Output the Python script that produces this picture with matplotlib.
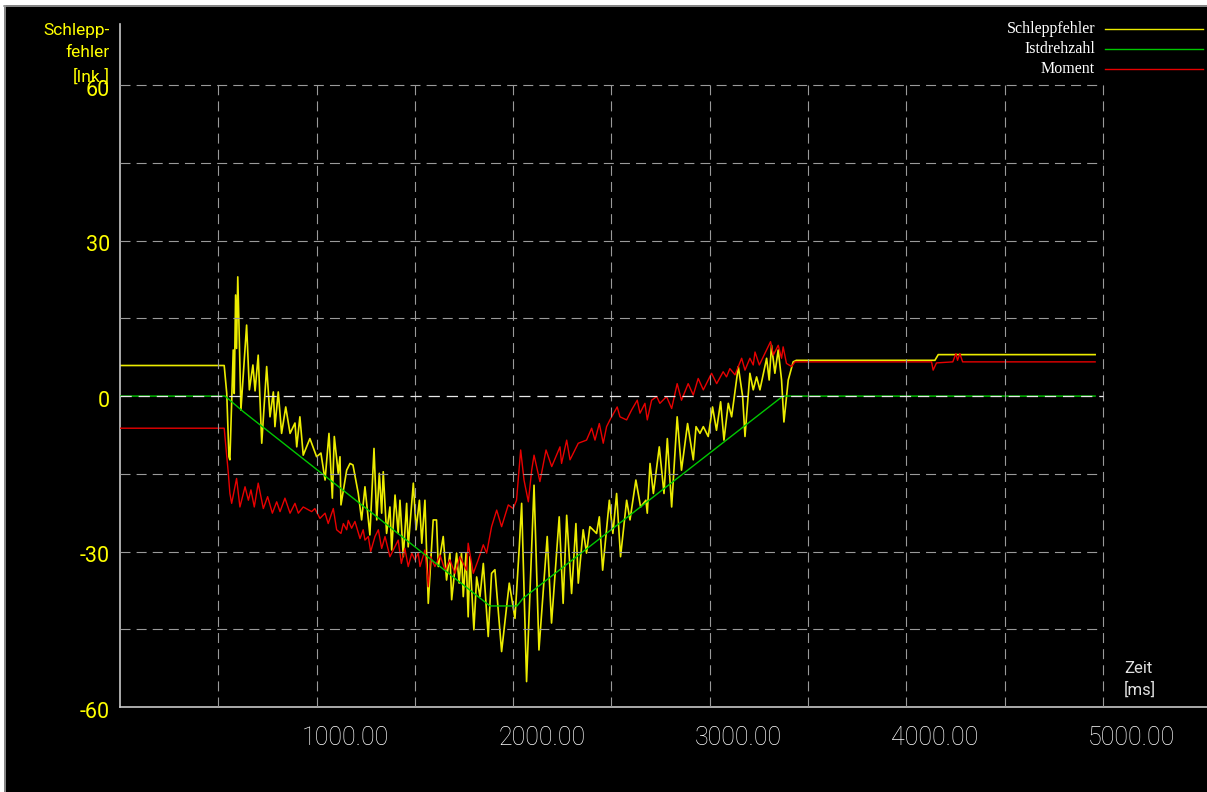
import matplotlib
matplotlib.use("Agg")
import matplotlib.pyplot as plt
from matplotlib.patches import Rectangle
from matplotlib.lines import Line2D

schlepp_t = [0, 530, 543, 554, 559, 576, 581, 588, 593, 599,
             605, 615, 644, 658, 676, 687, 703, 721, 746, 763,
             780, 788, 805, 822, 843, 865, 890, 899, 915, 932,
             966, 1000, 1022, 1043, 1063, 1080, 1090, 1110, 1119, 1124,
             1153, 1170, 1185, 1212, 1229, 1246, 1271, 1292, 1306, 1319,
             1331, 1339, 1356, 1373, 1382, 1399, 1415, 1424, 1441, 1458,
             1466, 1492, 1506, 1523, 1535, 1551, 1568, 1593, 1610, 1619,
             1644, 1661, 1678, 1687, 1712, 1725, 1737, 1746, 1760, 1771,
             1780, 1800, 1814, 1831, 1848, 1873, 1890, 1907, 1941, 1980,
             2009, 2031, 2043, 2068, 2106, 2131, 2173, 2195, 2234, 2254,
             2272, 2297, 2319, 2331, 2356, 2373, 2390, 2424, 2438, 2455,
             2489, 2507, 2526, 2546, 2577, 2594, 2624, 2648, 2675, 2682,
             2696, 2713, 2743, 2767, 2784, 2806, 2834, 2856, 2887, 2916,
             2930, 2950, 2967, 2992, 3014, 3034, 3055, 3072, 3094, 3111,
             3145, 3167, 3179, 3204, 3221, 3238, 3255, 3289, 3302, 3314,
             3331, 3348, 3365, 3377, 3399, 3424, 3440, 4145, 4162, 4960]
schlepp_v = [5.9, 5.9, 0.5, -11.7, -12.3, 8.9, 0.5, 19.5, 9.2, 23.0,
             14.0, -2.7, 13.7, 1.2, 6.0, 1.0, 7.9, -9.1, 5.7, -4.0,
             0.8, -5.9, 0.8, -7.2, -2.1, -7.2, -5.2, -9.8, -4.0, -11.4,
             -8.2, -11.7, -11.0, -16.2, -7.2, -19.7, -7.8, -14.9, -11.7, -21.0,
             -14.3, -13.0, -13.3, -18.8, -23.9, -17.5, -26.8, -10.1, -23.9, -14.9,
             -22.6, -14.6, -26.5, -21.4, -29.7, -19.1, -26.5, -20.1, -31.0, -20.7,
             -29.1, -16.8, -25.8, -20.1, -28.4, -20.1, -40.0, -23.9, -23.9, -32.9,
             -27.1, -35.5, -30.3, -39.3, -30.3, -36.1, -30.3, -38.7, -30.3, -42.6,
             -31.0, -45.1, -34.9, -38.7, -32.3, -46.4, -34.2, -33.5, -49.3, -36.1,
             -42.9, -29.1, -20.7, -55.1, -17.2, -49.0, -27.1, -43.8, -23.3, -40.0,
             -23.0, -38.1, -24.6, -36.1, -25.8, -30.3, -25.2, -26.5, -23.3, -33.6,
             -20.1, -26.5, -18.8, -31.0, -20.1, -23.9, -16.2, -21.4, -20.1, -22.6,
             -13.0, -18.8, -9.8, -18.8, -8.2, -21.4, -4.0, -14.3, -5.3, -12.3,
             -5.9, -7.2, -5.9, -7.8, -2.1, -6.6, -1.1, -8.5, -1.4, -4.0,
             5.7, -0.1, -7.8, 4.4, 1.2, 3.7, 1.2, 7.3, 3.1, 9.8,
             4.4, 8.9, 3.1, -5.0, 3.1, 6.6, 6.9, 6.9, 8.0, 8.0]

moment_t = [0, 530, 551, 559, 568, 593, 610, 636, 653, 666,
            683, 703, 729, 751, 775, 797, 814, 839, 865, 890,
            907, 932, 975, 991, 1017, 1043, 1059, 1085, 1102, 1124,
            1136, 1153, 1161, 1178, 1195, 1221, 1237, 1246, 1263, 1275,
            1297, 1314, 1331, 1348, 1373, 1390, 1415, 1431, 1449, 1466,
            1484, 1500, 1517, 1526, 1551, 1568, 1580, 1602, 1628, 1653,
            1678, 1704, 1729, 1763, 1771, 1797, 1822, 1848, 1865, 1890,
            1916, 1941, 1975, 2000, 2017, 2038, 2055, 2077, 2094, 2106,
            2136, 2167, 2196, 2238, 2246, 2272, 2289, 2331, 2373, 2399,
            2416, 2438, 2458, 2475, 2492, 2529, 2543, 2577, 2602, 2631,
            2645, 2670, 2682, 2704, 2730, 2746, 2780, 2806, 2834, 2856,
            2890, 2916, 2941, 2967, 3009, 3035, 3068, 3085, 3102, 3128,
            3162, 3179, 3204, 3221, 3230, 3252, 3280, 3309, 3323, 3348,
            3365, 3373, 3390, 3416, 3433, 4128, 4136, 4153, 4236, 4252,
            4260, 4272, 4286, 4960]
moment_v = [-6.2, -6.2, -14.9, -18.8, -20.7, -15.9, -21.4, -17.5, -20.1, -18.1,
            -21.4, -16.8, -21.7, -19.4, -22.6, -20.4, -22.3, -19.7, -22.6, -20.7,
            -22.6, -21.4, -22.3, -21.7, -23.6, -22.6, -24.6, -21.7, -25.8, -26.5,
            -24.6, -25.8, -24.0, -25.5, -24.2, -27.5, -25.8, -27.8, -27.1, -30.0,
            -27.1, -25.8, -29.4, -27.1, -31.0, -29.7, -27.8, -32.3, -29.4, -32.9,
            -30.3, -31.6, -30.3, -32.9, -29.7, -36.8, -31.0, -32.9, -30.7, -33.6,
            -31.6, -34.2, -31.0, -33.6, -28.4, -34.2, -31.6, -28.7, -30.3, -25.2,
            -22.0, -25.2, -21.0, -21.7, -20.1, -10.4, -16.2, -20.4, -14.3, -11.4,
            -16.5, -10.4, -13.6, -9.8, -13.0, -8.5, -12.3, -9.1, -8.5, -6.2,
            -8.5, -5.3, -9.1, -5.9, -4.6, -2.1, -4.0, -4.6, -2.7, -0.8,
            -3.3, -1.4, -4.6, -0.8, -0.1, -1.4, -0.1, -2.4, 2.4, -0.8,
            2.4, 0.2, 3.4, 1.2, 4.4, 2.4, 4.7, 3.7, 5.3, 4.1,
            7.3, 5.0, 7.3, 6.0, 8.5, 6.0, 8.2, 10.5, 7.9, 9.8,
            7.3, 9.5, 6.3, 5.7, 6.6, 6.6, 5.0, 6.4, 6.6, 8.2,
            6.9, 8.2, 6.6, 6.6]

drehzahl_t = [0, 534, 627, 1882, 2019, 2051, 3372, 4960]
drehzahl_v = [0, 0, -3.0, -40.5, -40.5, -39.0, 0, 0]

x_ticks = [1000, 2000, 3000, 4000, 5000]
x_labels = ["1000.00", "2000.00", "3000.00", "4000.00", "5000.00"]
y_ticks = [60, 30, 0, -30, -60]
y_labels = ["60", "30", "0", "-30", "-60"]
legend_names = ["Schleppfehler", "Istdrehzahl", "Moment"]

GELB = "#ecec00"
GRUEN = "#00c800"
ROT = "#e80000"

W, H = 1207, 792
fig = plt.figure(figsize=(W / 100, H / 100), dpi=100, facecolor="black")
ax = fig.add_axes([120 / W, 85 / H, 1 - 120 / W, (707 - 24) / H])
ax.set_facecolor("black")
ax.set_xlim(0, 5529)
ax.set_ylim(-60, 71.8)
ax.set_xticks([])
ax.set_yticks([])
for s in ["top", "right"]:
    ax.spines[s].set_visible(False)
for s in ["left", "bottom"]:
    ax.spines[s].set_color("#c8c8c8")
    ax.spines[s].set_linewidth(1.2)

# Kurven
ax.plot(schlepp_t, schlepp_v, color=GELB, lw=1.2, zorder=2)
ax.plot(moment_t, moment_v, color=ROT, lw=1.0, zorder=3)
ax.plot(drehzahl_t, drehzahl_v, color=GRUEN, lw=1.0, zorder=4)

# Raster
dash = (0, (9, 5.5))
for yv in [60, 45, 30, 15, -15, -30, -45]:
    ax.plot([0, 5000], [yv, yv], color="#9a9a9a", lw=0.8, ls=dash, zorder=5)
for xv in range(500, 5001, 500):
    ax.plot([xv, xv], [-60, 60], color="#9a9a9a", lw=0.8, ls=dash, zorder=5)
ax.plot([0, 5000], [0, 0], color="#e8e8e8", lw=0.9, ls=dash, zorder=6)

# Achsbeschriftung
for xv, lab in zip(x_ticks, x_labels):
    ax.text(xv + 145, -65.9, lab, color="white", fontsize=18, family="Roboto",
            fontweight="light", ha="center", va="center", clip_on=False)
for yv, lab in zip(y_ticks, y_labels):
    ax.text(-50, yv - 1.0, lab, color="#ffff00", fontsize=15.5, family="Roboto",
            ha="right", va="center", clip_on=False)

fig.text(110 / W, 1 - 23 / H, "Schlepp-\nfehler\n[Ink.]", color="#ffff00", fontsize=12.5,
         family="Roboto", ha="right", va="top", multialignment="right", linespacing=1.6)
fig.text(1124 / W, 1 - 661 / H, "Zeit\n[ms]", color="#e0e0e0", fontsize=12,
         family="Roboto", ha="left", va="top", linespacing=1.4)

# Legende oben rechts
for i, (name, col) in enumerate(zip(legend_names, [GELB, GRUEN, ROT])):
    yy = 1 - (29 + 20 * i) / H
    fig.text(1095 / W, yy, name, color="white", fontsize=11.5, family="Liberation Serif",
             ha="right", va="center")
    fig.add_artist(Line2D([1105 / W, 1203 / W], [yy, yy], color=col, lw=1.0))

# Rahmen
fig.add_artist(Rectangle((0, 1 - 5 / H), 1, 5 / H, transform=fig.transFigure,
                         facecolor="white", edgecolor="none"))
fig.add_artist(Rectangle((0, 0), 4 / W, 1, transform=fig.transFigure,
                         facecolor="white", edgecolor="none"))
fig.add_artist(Line2D([4 / W, 1], [1 - 6 / H, 1 - 6 / H], color="#a0a0a0", lw=1.2))
fig.add_artist(Line2D([4.5 / W, 4.5 / W], [0, 1 - 6 / H], color="#a0a0a0", lw=1.2))

fig.savefig("out.png", dpi=100, facecolor="black")
